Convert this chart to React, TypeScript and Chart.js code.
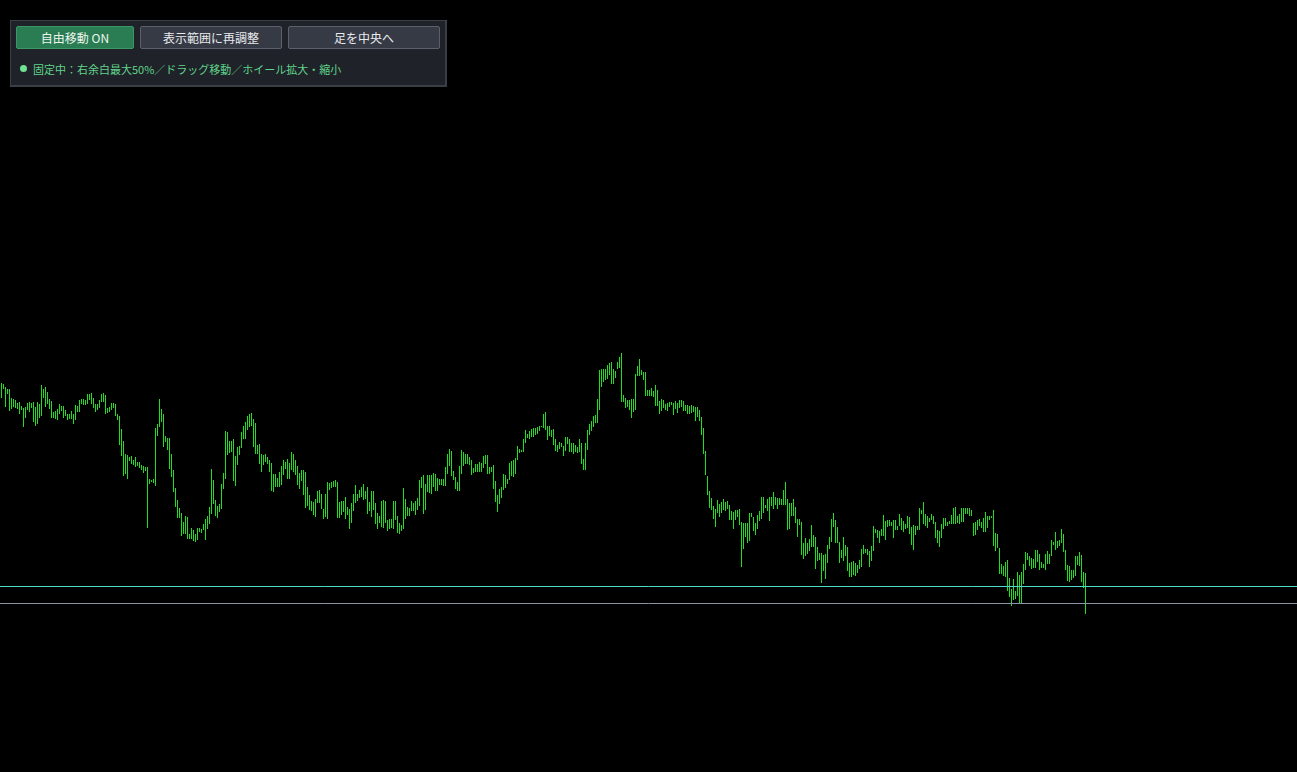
import React, { useEffect, useRef } from "react";
import { Chart, registerables } from "chart.js";

Chart.register(...registerables);

// Bar highs / lows (price units), read left to right, one value per bar
const HIGH_1 = [
  417, 416, 413, 411, 411, 402, 401, 400, 397, 398,
  394, 392, 393, 397, 398, 397, 398, 393, 398, 396,
  415, 411, 413, 408, 401, 399, 388, 389, 391, 396,
  394, 394, 390, 386, 386, 389, 386, 395, 394, 400,
  401, 401, 400, 406, 406, 407, 402, 396, 396, 400,
  406, 407, 405, 392, 393, 397, 397, 396, 386, 384,
  371, 359, 346, 345, 343, 344, 340, 343, 338, 338,
  335, 334, 333, 333, 321, 320, 321, 372, 376, 401,
  391, 386, 364, 362, 362, 346, 330, 312, 300, 292,
  287, 278, 284, 283, 266, 272, 270, 266, 272, 272,
  271, 276, 281, 284, 293, 331, 320, 300, 294, 296,
];
const LOW_1 = [
  402, 411, 393, 406, 389, 391, 393, 392, 391, 386,
  390, 373, 382, 390, 388, 392, 378, 374, 376, 382,
  384, 402, 393, 396, 391, 382, 382, 381, 380, 386,
  389, 382, 384, 380, 381, 381, 376, 380, 388, 388,
  396, 395, 395, 396, 400, 396, 392, 388, 390, 392,
  398, 398, 386, 387, 388, 390, 392, 384, 380, 355,
  344, 324, 326, 321, 339, 336, 335, 333, 334, 332,
  330, 327, 329, 272, 316, 318, 317, 314, 364, 373,
  378, 353, 358, 350, 331, 323, 308, 293, 282, 282,
  264, 266, 266, 261, 261, 261, 259, 258, 260, 268,
  267, 270, 260, 271, 276, 286, 296, 284, 282, 288,
];
const HIGH_2 = [
  316, 327, 369, 368, 359, 359, 361, 344, 353, 354,
  368, 374, 378, 384, 386, 387, 381, 377, 355, 356,
  346, 345, 346, 343, 340, 337, 326, 326, 322, 328,
  334, 340, 338, 341, 337, 348, 346, 340, 334, 327,
  330, 330, 328, 313, 305, 299, 298, 301, 309, 310,
  306, 291, 306, 318, 317, 318, 319, 320, 318, 298,
  299, 299, 303, 293, 291, 297, 306, 315, 306, 310,
  313, 316, 309, 313, 298, 309, 309, 297, 287, 284,
  299, 300, 299, 280, 281, 281, 299, 299, 284, 277,
  275, 312, 301, 293, 292, 299, 297, 299, 302, 320,
  323, 325, 316, 325, 325, 325, 327, 326, 322, 321,
];
const LOW_2 = [
  291, 311, 321, 345, 347, 348, 319, 314, 335, 345,
  352, 361, 361, 370, 373, 374, 353, 346, 346, 336,
  328, 335, 338, 336, 328, 309, 308, 313, 313, 313,
  315, 325, 331, 321, 321, 330, 328, 325, 315, 311,
  319, 305, 292, 294, 290, 289, 285, 283, 297, 297,
  291, 281, 283, 281, 310, 312, 313, 313, 282, 282,
  285, 288, 281, 285, 271, 277, 289, 297, 299, 302,
  303, 300, 301, 286, 289, 283, 290, 276, 271, 277,
  273, 272, 277, 269, 271, 272, 271, 280, 267, 266,
  269, 271, 281, 284, 284, 289, 289, 285, 290, 294,
  312, 286, 290, 308, 307, 306, 313, 309, 309, 315,
];
const HIGH_3 = [
  321, 321, 333, 346, 351, 349, 329, 323, 318, 334,
  350, 348, 346, 346, 343, 340, 332, 336, 336, 338,
  337, 344, 345, 345, 333, 333, 335, 319, 305, 311,
  313, 326, 325, 321, 337, 339, 340, 342, 354, 351,
  350, 361, 370, 366, 369, 371, 372, 372, 373, 374,
  374, 386, 388, 374, 374, 370, 371, 361, 355, 358,
  357, 354, 363, 363, 361, 357, 357, 355, 353, 361,
  357, 341, 357, 370, 376, 379, 384, 385, 401, 430,
  431, 431, 431, 435, 437, 438, 431, 429, 438, 443,
  447, 405, 402, 400, 400, 401, 401, 426, 434, 441,
  430, 428, 428, 410, 410, 412, 409, 415, 410, 399,
];
const LOW_3 = [
  315, 314, 314, 326, 334, 324, 320, 311, 309, 309,
  326, 334, 336, 336, 335, 325, 327, 328, 328, 328,
  328, 332, 336, 326, 326, 328, 311, 298, 288, 296,
  302, 310, 312, 316, 320, 324, 323, 326, 340, 347,
  348, 348, 357, 362, 361, 363, 363, 365, 366, 369,
  373, 372, 370, 360, 364, 363, 355, 349, 348, 351,
  353, 344, 349, 356, 348, 348, 346, 348, 347, 348,
  336, 330, 330, 350, 365, 369, 373, 377, 377, 390,
  413, 418, 420, 421, 425, 416, 416, 422, 431, 432,
  398, 398, 392, 393, 390, 382, 388, 390, 424, 424,
  425, 420, 404, 404, 404, 404, 403, 394, 394, 386,
];
const HIGH_4 = [
  401, 400, 396, 397, 398, 398, 397, 399, 397, 400,
  400, 399, 395, 395, 394, 395, 394, 393, 393, 390,
  383, 372, 349, 324, 309, 302, 294, 291, 300, 296,
  298, 301, 298, 299, 295, 289, 288, 290, 290, 291,
  278, 277, 277, 277, 287, 287, 283, 277, 285, 289,
  303, 303, 295, 301, 303, 303, 308, 303, 302, 302,
  301, 310, 318, 301, 297, 297, 301, 293, 281, 281,
  278, 257, 262, 257, 261, 275, 265, 263, 253, 247,
  247, 245, 246, 255, 263, 281, 287, 280, 273, 258,
  250, 263, 255, 253, 237, 238, 239, 237, 235, 240,
  251, 255, 251, 251, 249, 254, 274, 271, 270, 269,
];
const LOW_4 = [
  389, 392, 390, 389, 393, 395, 385, 391, 387, 392,
  393, 389, 389, 386, 386, 387, 388, 379, 383, 379,
  365, 346, 325, 305, 292, 290, 281, 273, 287, 283,
  287, 290, 289, 291, 280, 280, 271, 280, 283, 275,
  233, 251, 263, 257, 259, 283, 269, 265, 271, 279,
  281, 287, 292, 289, 279, 294, 291, 295, 291, 295,
  295, 295, 295, 270, 271, 284, 284, 277, 263, 275,
  245, 241, 244, 246, 249, 253, 253, 231, 239, 240,
  217, 229, 221, 237, 251, 258, 273, 257, 257, 237,
  242, 239, 244, 229, 223, 223, 225, 224, 227, 231,
  233, 246, 247, 245, 233, 239, 249, 267, 262, 257,
];
const HIGH_5 = [
  271, 285, 279, 280, 280, 278, 280, 280, 274, 286,
  282, 279, 276, 284, 283, 273, 275, 274, 274, 292,
  290, 298, 286, 284, 282, 286, 284, 278, 270, 269,
  276, 282, 282, 278, 279, 285, 292, 293, 284, 286,
  292, 292, 292, 292, 292, 290, 277, 278, 280, 281,
  278, 282, 288, 284, 284, 284, 290, 267, 266, 252,
  236, 234, 238, 240, 222, 211, 221, 209, 228, 225,
  228, 236, 248, 247, 244, 242, 241, 250, 250, 246,
  238, 236, 246, 249, 246, 260, 258, 268, 259, 260,
  271, 266, 250, 235, 234, 230, 230, 244, 244, 248,
  245, 228, 227,
];
const LOW_5 = [
  264, 264, 260, 273, 274, 274, 262, 270, 270, 274,
  270, 268, 271, 272, 266, 255, 250, 265, 270, 270,
  286, 276, 274, 272, 278, 280, 276, 262, 257, 253,
  262, 271, 274, 274, 276, 276, 276, 276, 277, 276,
  278, 278, 286, 286, 284, 284, 264, 265, 270, 274,
  272, 268, 268, 272, 280, 282, 254, 249, 252, 226,
  226, 224, 223, 209, 203, 194, 200, 201, 204, 197,
  197, 216, 230, 240, 234, 231, 232, 232, 238, 230,
  232, 232, 230, 236, 236, 244, 255, 250, 252, 254,
  257, 248, 230, 219, 218, 220, 222, 224, 235, 234,
  218, 212, 186,
];

const HIGHS = [...HIGH_1, ...HIGH_2, ...HIGH_3, ...HIGH_4, ...HIGH_5];
const LOWS = [...LOW_1, ...LOW_2, ...LOW_3, ...LOW_4, ...LOW_5];

// Horizontal price lines
const LEVELS = [213.5, 196.5];
const LEVEL_COLORS = ["#4adcc6", "#8b94a5"];

// Visible range (bar index and price)
const X_MIN = -0.75;
const X_MAX = 647.75;
const Y_MIN = 28;
const Y_MAX = 800;

const BUTTONS = ["自由移動 ON", "表示範囲に再調整", "足を中央へ"];
const STATUS = "固定中：右余白最大50%／ドラッグ移動／ホイール拡大・縮小";

const W = 1297;
const H = 772;

export default function App() {
  const ref = useRef<HTMLCanvasElement>(null);

  useEffect(() => {
    if (!ref.current) return;
    const bars = HIGHS.map((h, i) => ({ x: i, y: [LOWS[i], h] }));
    const lineSets = LEVELS.map((v, j) => ({
      type: "line" as const,
      data: [
        { x: X_MIN, y: v },
        { x: X_MAX, y: v },
      ],
      borderColor: LEVEL_COLORS[j],
      borderWidth: 1,
      pointRadius: 0,
      fill: false,
      order: 0,
    }));
    const chart = new Chart(ref.current, {
      type: "bar",
      data: {
        datasets: [
          {
            type: "bar" as const,
            data: bars as any,
            backgroundColor: "#22dd22",
            borderWidth: 0,
            barThickness: 1,
            inflateAmount: 0,
            order: 1,
          } as any,
          ...(lineSets as any),
        ],
      },
      options: {
        responsive: false,
        animation: false,
        events: [],
        layout: { padding: 0 },
        plugins: {
          legend: { display: false },
          tooltip: { enabled: false },
        },
        scales: {
          x: {
            type: "linear",
            min: X_MIN,
            max: X_MAX,
            offset: false,
            display: false,
            grid: { offset: false },
          },
          y: { type: "linear", min: Y_MIN, max: Y_MAX, display: false, offset: false },
        },
      },
    });
    return () => chart.destroy();
  }, []);

  const btnBase: React.CSSProperties = {
    position: "absolute",
    top: 5,
    height: 23,
    boxSizing: "border-box",
    fontFamily: '"Noto Sans CJK JP", "Noto Sans", sans-serif',
    fontSize: 12,
    lineHeight: "21px",
    textAlign: "center",
    color: "#e8eaee",
    background: "#363a45",
    border: "1px solid #5b606c",
    borderRadius: 2,
  };
  const lefts = [5, 129, 277];
  const widths = [118, 142, 152];

  return (
    <div
      style={{
        position: "fixed",
        left: 0,
        top: 0,
        width: W,
        height: H,
        background: "#000",
        overflow: "hidden",
      }}
    >
      <canvas ref={ref} width={W} height={H} style={{ display: "block", width: W, height: H }} />
      <div
        style={{
          position: "absolute",
          left: 10,
          top: 20,
          width: 437,
          height: 67,
          boxSizing: "border-box",
          background: "#1f2229",
          border: "1px solid #3a3e47",
          borderRightWidth: 2,
          borderBottomWidth: 2,
        }}
      >
        {BUTTONS.map((b, i) => (
          <div
            key={b}
            style={{
              ...btnBase,
              left: lefts[i],
              width: widths[i],
              ...(i === 0
                ? { background: "#2a7d52", border: "1px solid #3c9766", color: "#eef5f0" }
                : {}),
            }}
          >
            {b}
          </div>
        ))}
        <div
          style={{
            position: "absolute",
            left: 9,
            top: 44,
            width: 7,
            height: 7,
            borderRadius: "50%",
            background: "#6fe394",
          }}
        />
        <div
          style={{
            position: "absolute",
            left: 22,
            top: 40,
            fontFamily: '"Noto Sans CJK JP", "Noto Sans", sans-serif',
            fontSize: 11,
            lineHeight: "16px",
            color: "#5fd48a",
            whiteSpace: "nowrap",
          }}
        >
          {STATUS}
        </div>
      </div>
    </div>
  );
}
